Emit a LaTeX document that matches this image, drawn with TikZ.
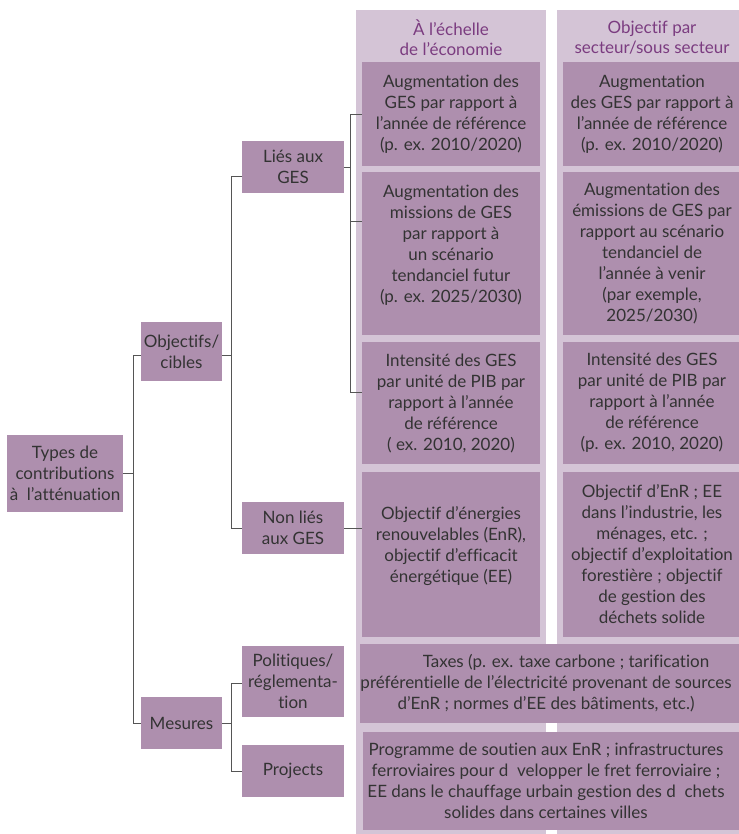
\documentclass[tikz,border=0pt]{standalone}
\usepackage{fontspec}
\setmainfont{Lato}[Ligatures={NoCommon}]
\definecolor{boxc}{HTML}{AE8FAE}
\definecolor{bgc}{HTML}{D4C4D6}
\definecolor{txtc}{HTML}{333333}
\definecolor{headc}{HTML}{7B3C80}
\definecolor{linec}{HTML}{555555}
\newcommand\mkbox[6]{\node[box,minimum width={((#4)-(#2))*1bp},minimum height={((#5)-(#3))*1bp}] (#1) at ({((#2)+(#4))/2},{((#3)+(#5))/2}) {#6};}
\begin{document}
\begin{tikzpicture}[x=1bp,y=-1bp,
  box/.style={fill=boxc,text=txtc,align=center,inner sep=0pt,font=\fontsize{17bp}{21bp}\selectfont},
  head/.style={text=headc,align=center,inner sep=0pt,font=\fontsize{17bp}{20bp}\selectfont},
  conn/.style={draw=linec,line width=0.9bp}]
\useasboundingbox (0,0) rectangle (739,834);
% background columns
\fill[bgc] (356,10) rectangle (546,834);
\fill[bgc] (557,10) rectangle (747,834);
\node[head] (h1) at (451,38) {À l’échelle\\de l’économie};
\node[head] (h2) at (652,38) {Objectif par\\secteur/sous secteur};
% left tree
\mkbox{types}{7}{435}{123}{512}{Types de\\contributions\\à\ \ l’atténuation}
\mkbox{obj}{141}{322}{222}{381}{Objectifs/\\cibles}
\mkbox{mes}{141}{697}{222}{749}{Mesures}
\mkbox{lies}{242}{141}{344}{193}{Liés aux\\GES}
\mkbox{nonlies}{242}{502}{344}{554}{Non liés\\aux GES}
\mkbox{pol}{242}{646}{344}{717}{Politiques/\\réglementa-\\tion}
\mkbox{proj}{242}{745}{344}{797}{Projects}
% column 1
\fill[boxc] (362,310) rectangle (540,335);
\fill[boxc] (362,610) rectangle (540,637);
\mkbox{a1}{362}{62}{540}{166}{Augmentation des\\GES par rapport à\\l’année de référence\\(p. ex. 2010/2020)}
\mkbox{a2}{362}{172}{540}{318}{Augmentation des\\missions de GES\\par rapport à\\un scénario\\tendanciel futur\\(p. ex. 2025/2030)}
\mkbox{a3}{362}{342}{540}{464}{Intensité des GES\\par unité de PIB par\\rapport à l’année\\de référence\\( ex. 2010, 2020)}
\mkbox{a4}{362}{472}{540}{621}{Objectif d’énergies\\renouvelables (EnR),\\objectif d’efficacit\\énergétique (EE)}
% column 2
\mkbox{b1}{563}{62}{741}{166}{Augmentation\\des GES par rapport à\\l’année de référence\\(p. ex. 2010/2020)}
\mkbox{b2}{563}{172}{741}{335}{Augmentation des\\émissions de GES par\\rapport au scénario\\tendanciel de\\l’année à venir\\(par exemple,\\2025/2030)}
\mkbox{b3}{563}{342}{741}{464}{Intensité des GES\\par unité de PIB par\\rapport à l’année\\de référence\\(p. ex. 2010, 2020)}
\mkbox{b4}{563}{472}{741}{637}{Objectif d’EnR ; EE\\dans l’industrie, les\\ménages, etc. ;\\objectif d’exploitation\\forestière ; objectif\\de gestion des\\déchets solide}
% wide rows
\fill[boxc] (720,644) rectangle (741,723);
\fill[boxc] (720,732) rectangle (741,830);
\mkbox{tax}{363}{644}{729}{723}{\hspace*{40bp}Taxes (p. ex. taxe carbone ; tarification\\préférentielle de l’électricité provenant de sources\\d’EnR ; normes d’EE des bâtiments, etc.)}
\mkbox{prog}{363}{732}{729}{830}{Programme de soutien aux EnR ; infrastructures\\ferroviaires pour d\ \ velopper le fret ferroviaire ;\\EE dans le chauffage urbain gestion des d\ \ chets\\solides dans certaines villes}
% junction coordinates
\coordinate (J0) at (133,0);
\coordinate (J1) at (231,0);
\coordinate (J2) at (350,0);
\coordinate (objL) at ([yshift=-4bp]obj.west);
\coordinate (objR) at ([yshift=-4bp]obj.east);
\coordinate (liesL) at ([yshift=-9bp]lies.west);
\coordinate (polL) at ([yshift=-1.5bp]pol.west);
\coordinate (pa2) at ([yshift=-50bp]a2.north west);
\coordinate (pa3) at ([yshift=-51bp]a3.north west);
% connectors
\draw[conn] (types.east) -- (types.east -| J0);
\draw[conn] (objL) -| (J0 |- mes.west) -- (mes.west);
\draw[conn] (objR) -- (objR -| J1);
\draw[conn] (liesL) -| (J1 |- nonlies.west) -- (nonlies.west);
\draw[conn] (mes.east) -- (mes.east -| J1);
\draw[conn] (polL) -| (J1 |- proj.west) -- (proj.west);
\draw[conn] (lies.east) -- (lies.east -| J2);
\draw[conn] (a1.west) -| (J2 |- pa3) -- (pa3);
\draw[conn] (pa2 -| J2) -- (pa2);
\draw[conn] (nonlies.east) -- (nonlies.east -| a4.west);
\end{tikzpicture}
\end{document}
